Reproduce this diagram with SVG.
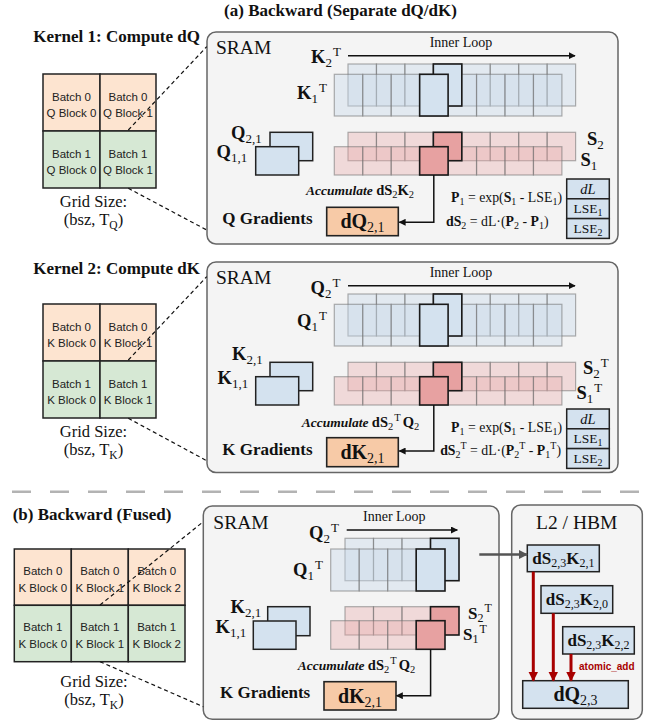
<svg xmlns="http://www.w3.org/2000/svg" xmlns:xlink="http://www.w3.org/1999/xlink" width="646" height="721" viewBox="0 0 646 721">
<style>
.s{font-family:"Liberation Serif","Times New Roman",serif;fill:#111}
.b{font-weight:bold}
.i{font-style:italic}
.sans{font-family:"Liberation Sans",Arial,sans-serif;font-size:11.5px;fill:#222;text-anchor:middle}
.title{font-size:17px;font-weight:bold}
.panel{fill:#f4f4f4;stroke:#666;stroke-width:1.5}
.og{fill:#fde4d0;stroke:#222;stroke-width:1.5}
.gn{fill:#d6e8d4;stroke:#222;stroke-width:1.5}
.cb{fill:#c8d8ea;fill-opacity:.42;stroke:#6f6f6f;stroke-opacity:.55;stroke-width:1.2}
.cr{fill:#e8a8a8;fill-opacity:.36;stroke:#6f6f6f;stroke-opacity:.55;stroke-width:1.2}
.hb{fill:#d4e2ef;stroke:#1a1a1a;stroke-width:1.6}
.hr{fill:#e7a1a1;stroke:#1a1a1a;stroke-width:1.6}
.blk{fill:#d4e2ef;stroke:#222;stroke-width:1.5}
.grad{fill:#f7caa7;stroke:#222;stroke-width:1.6}
.dash{fill:none;stroke:#111;stroke-width:1.2;stroke-dasharray:4 3}
.con{fill:none;stroke:#111;stroke-width:1.5}
.lb{font-size:18.5px;font-weight:bold}
.gl{font-size:17px;font-weight:bold}
.sb{font-size:13px;font-weight:normal}
.fm{font-size:13.8px}
.fs{font-size:10px}
</style>
<defs>
<marker id="ah" viewBox="0 0 10 10" refX="9" refY="5" markerWidth="7" markerHeight="7" markerUnits="userSpaceOnUse" orient="auto"><path d="M0,0 L10,5 L0,10 z" fill="#111"/></marker>
<marker id="ahr" viewBox="0 0 10 10" refX="9" refY="5" markerWidth="10" markerHeight="10" markerUnits="userSpaceOnUse" orient="auto"><path d="M0,0 L10,5 L0,10 z" fill="#a80000"/></marker>
<marker id="ahg" viewBox="0 0 10 10" refX="9" refY="5" markerWidth="9" markerHeight="9" markerUnits="userSpaceOnUse" orient="auto"><path d="M0,0 L10,5 L0,10 z" fill="#555"/></marker>
<g id="stripsA">
<g class="cb">
<rect x="348" y="64" width="28.45" height="42"/><rect x="376.45" y="64" width="28.45" height="42"/><rect x="404.9" y="64" width="28.45" height="42"/><rect x="433.35" y="64" width="28.45" height="42"/><rect x="461.8" y="64" width="28.45" height="42"/><rect x="490.25" y="64" width="28.45" height="42"/><rect x="518.7" y="64" width="28.45" height="42"/><rect x="547.15" y="64" width="28.45" height="42"/>
<rect x="334.3" y="74.3" width="28.45" height="41.7"/><rect x="362.75" y="74.3" width="28.45" height="41.7"/><rect x="391.2" y="74.3" width="28.45" height="41.7"/><rect x="419.65" y="74.3" width="28.45" height="41.7"/><rect x="448.1" y="74.3" width="28.45" height="41.7"/><rect x="476.55" y="74.3" width="28.45" height="41.7"/><rect x="505" y="74.3" width="28.45" height="41.7"/><rect x="533.45" y="74.3" width="28.45" height="41.7"/>
</g>
<rect class="hb" x="433.35" y="64" width="28.45" height="42"/>
<rect class="hb" x="419.65" y="74.3" width="28.45" height="41.7"/>
<g class="cr">
<rect x="348" y="132.3" width="28.45" height="28.4"/><rect x="376.45" y="132.3" width="28.45" height="28.4"/><rect x="404.9" y="132.3" width="28.45" height="28.4"/><rect x="433.35" y="132.3" width="28.45" height="28.4"/><rect x="461.8" y="132.3" width="28.45" height="28.4"/><rect x="490.25" y="132.3" width="28.45" height="28.4"/><rect x="518.7" y="132.3" width="28.45" height="28.4"/><rect x="547.15" y="132.3" width="28.45" height="28.4"/>
<rect x="334.3" y="146.7" width="28.45" height="28.3"/><rect x="362.75" y="146.7" width="28.45" height="28.3"/><rect x="391.2" y="146.7" width="28.45" height="28.3"/><rect x="419.65" y="146.7" width="28.45" height="28.3"/><rect x="448.1" y="146.7" width="28.45" height="28.3"/><rect x="476.55" y="146.7" width="28.45" height="28.3"/><rect x="505" y="146.7" width="28.45" height="28.3"/><rect x="533.45" y="146.7" width="28.45" height="28.3"/>
</g>
<rect class="hr" x="433.35" y="132.3" width="28.45" height="28.4"/>
<rect class="hr" x="419.65" y="146.7" width="28.45" height="28.3"/>
<rect class="blk" x="270" y="132.3" width="42.7" height="28.4"/>
<rect class="blk" x="255.7" y="146.7" width="43" height="28.3"/>
<rect class="blk" x="566.7" y="179" width="42.6" height="19.8"/>
<rect class="blk" x="566.7" y="198.8" width="42.6" height="19.8"/>
<rect class="blk" x="566.7" y="218.6" width="42.6" height="19.8"/>
<text class="s i" x="588" y="193.5" font-size="14.5" text-anchor="middle">dL</text>
<text class="s" x="588" y="213" font-size="13.5" text-anchor="middle">LSE<tspan font-size="10" dy="3">1</tspan></text>
<text class="s" x="588" y="232.8" font-size="13.5" text-anchor="middle">LSE<tspan font-size="10" dy="3">2</tspan></text>
<text class="s fm" x="562" y="201.5" text-anchor="end"><tspan class="b">P</tspan><tspan class="fs" dy="3">1</tspan><tspan dy="-3"> = exp(</tspan><tspan class="b">S</tspan><tspan class="fs" dy="3">1</tspan><tspan dy="-3"> - LSE</tspan><tspan class="fs" dy="3">1</tspan><tspan dy="-3">)</tspan></text>
<line class="con" x1="348" y1="55.7" x2="575" y2="55.7" marker-end="url(#ah)"/>
<text class="s" x="461" y="47" font-size="14" text-anchor="middle">Inner Loop</text>
<text class="s" x="216" y="54.3" font-size="19.5">SRAM</text>
</g>
</defs>

<text class="s title" x="340.5" y="16" text-anchor="middle">(a) Backward (Separate dQ/dK)</text>

<!-- Kernel 1 -->
<g id="kernel1-grid">
<text class="s title" x="33.3" y="41.7">Kernel 1: Compute dQ</text>
<rect class="og" x="43" y="74" width="57" height="57"/>
<rect class="og" x="100" y="74" width="56" height="57"/>
<rect class="gn" x="43" y="131" width="57" height="57"/>
<rect class="gn" x="100" y="131" width="56" height="57"/>
<text class="sans" x="71.5" y="100.8">Batch 0</text><text class="sans" x="71.5" y="117.4">Q Block 0</text>
<text class="sans" x="128" y="100.8">Batch 0</text><text class="sans" x="128" y="117.4">Q Block 1</text>
<text class="sans" x="71.5" y="157.8">Batch 1</text><text class="sans" x="71.5" y="174.4">Q Block 0</text>
<text class="sans" x="128" y="157.8">Batch 1</text><text class="sans" x="128" y="174.4">Q Block 1</text>
<text class="s" x="93.5" y="207" font-size="16.5" text-anchor="middle">Grid Size:</text>
<text class="s" x="93.5" y="225" font-size="16.5" text-anchor="middle">(bsz, T<tspan font-size="11.5" dy="4">Q</tspan><tspan dy="-4">)</tspan></text>
</g>

<g id="sram1">
<rect class="panel" x="207" y="32" width="411" height="212" rx="9"/>
<use xlink:href="#stripsA" href="#stripsA"/>
<text class="s lb" x="311" y="62.5">K<tspan class="sb" dy="4">2</tspan><tspan class="sb" dy="-11" dx="1">T</tspan></text>
<text class="s lb" x="297" y="99">K<tspan class="sb" dy="4">1</tspan><tspan class="sb" dy="-11" dx="1">T</tspan></text>
<text class="s lb" x="231" y="139">Q<tspan class="sb" dy="4">2,1</tspan></text>
<text class="s lb" x="216.5" y="158">Q<tspan class="sb" dy="4">1,1</tspan></text>
<text class="s lb" x="587" y="145">S<tspan class="sb" dy="4">2</tspan></text>
<text class="s lb" x="580.5" y="166">S<tspan class="sb" dy="4">1</tspan></text>
<text class="s" x="306" y="195"><tspan class="b i" font-size="13.5">Accumulate </tspan><tspan class="b" font-size="14.5">dS</tspan><tspan font-size="10.5" dy="3">2</tspan><tspan class="b" font-size="14.5" dy="-3">K</tspan><tspan font-size="10.5" dy="3">2</tspan></text>
<text class="s gl" x="222.3" y="224">Q Gradients</text>
<rect class="grad" x="326.7" y="207.3" width="71.6" height="28.4"/>
<text class="s b" x="362.5" y="228" font-size="20" text-anchor="middle">dQ<tspan font-size="14" font-weight="normal" dy="4">2,1</tspan></text>
<text class="s fm" x="548.5" y="226" text-anchor="end"><tspan class="b">dS</tspan><tspan class="fs" dy="3">2</tspan><tspan dy="-3"> = dL·(</tspan><tspan class="b">P</tspan><tspan class="fs" dy="3">2</tspan><tspan dy="-3"> - </tspan><tspan class="b">P</tspan><tspan class="fs" dy="3">1</tspan><tspan dy="-3">)</tspan></text>
</g>

<!-- Kernel 2 -->
<g id="kernel2-grid">
<text class="s title" x="33.3" y="273.5">Kernel 2: Compute dK</text>
<rect class="og" x="43" y="304" width="57" height="57"/>
<rect class="og" x="100" y="304" width="56" height="57"/>
<rect class="gn" x="43" y="361" width="57" height="57"/>
<rect class="gn" x="100" y="361" width="56" height="57"/>
<text class="sans" x="71.5" y="330.8">Batch 0</text><text class="sans" x="71.5" y="347.4">K Block 0</text>
<text class="sans" x="128" y="330.8">Batch 0</text><text class="sans" x="128" y="347.4">K Block 1</text>
<text class="sans" x="71.5" y="387.8">Batch 1</text><text class="sans" x="71.5" y="404.4">K Block 0</text>
<text class="sans" x="128" y="387.8">Batch 1</text><text class="sans" x="128" y="404.4">K Block 1</text>
<text class="s" x="93.5" y="437" font-size="16.5" text-anchor="middle">Grid Size:</text>
<text class="s" x="93.5" y="455" font-size="16.5" text-anchor="middle">(bsz, T<tspan font-size="11.5" dy="4">K</tspan><tspan dy="-4">)</tspan></text>
</g>

<g id="sram2">
<rect class="panel" x="207" y="262" width="411" height="210.5" rx="9"/>
<use xlink:href="#stripsA" href="#stripsA" transform="translate(0,230)"/>
<text class="s lb" x="310.5" y="293.5">Q<tspan class="sb" dy="4">2</tspan><tspan class="sb" dy="-11" dx="1">T</tspan></text>
<text class="s lb" x="297" y="327">Q<tspan class="sb" dy="4">1</tspan><tspan class="sb" dy="-11" dx="1">T</tspan></text>
<text class="s lb" x="232" y="359.5">K<tspan class="sb" dy="4">2,1</tspan></text>
<text class="s lb" x="217.5" y="383.5">K<tspan class="sb" dy="4">1,1</tspan></text>
<text class="s lb" x="583" y="374">S<tspan class="sb" dy="4">2</tspan><tspan class="sb" dy="-11.5" dx="1">T</tspan></text>
<text class="s lb" x="576.5" y="399">S<tspan class="sb" dy="4">1</tspan><tspan class="sb" dy="-11.5" dx="1">T</tspan></text>
<text class="s" x="301.7" y="427"><tspan class="b i" font-size="13.5">Accumulate </tspan><tspan class="b" font-size="14.5">dS</tspan><tspan font-size="10.5" dy="3">2</tspan><tspan font-size="10.5" dy="-9" dx="1">T</tspan><tspan class="b" font-size="14.5" dy="6" dx="2">Q</tspan><tspan font-size="10.5" dy="3">2</tspan></text>
<text class="s gl" x="222.3" y="455">K Gradients</text>
<rect class="grad" x="326.7" y="437.7" width="71.6" height="29"/>
<text class="s b" x="362.5" y="458.5" font-size="20" text-anchor="middle">dK<tspan font-size="14" font-weight="normal" dy="4">2,1</tspan></text>
<text class="s fm" x="561" y="455" text-anchor="end"><tspan class="b">dS</tspan><tspan class="fs" dy="3">2</tspan><tspan class="fs" dy="-9">T</tspan><tspan dy="6"> = dL·(</tspan><tspan class="b">P</tspan><tspan class="fs" dy="3">2</tspan><tspan class="fs" dy="-9">T</tspan><tspan dy="6"> - </tspan><tspan class="b">P</tspan><tspan class="fs" dy="3">1</tspan><tspan class="fs" dy="-9">T</tspan><tspan dy="6">)</tspan></text>
</g>

<line x1="12" y1="491.7" x2="642" y2="491.7" stroke="#b3b3b3" stroke-width="2.5" stroke-dasharray="19 19"/>

<!-- (b) Fused -->
<g id="fused-grid">
<text class="s title" x="12.7" y="520">(b) Backward (Fused)</text>
<rect class="og" x="14.3" y="549" width="57" height="56.3"/>
<rect class="og" x="71.3" y="549" width="57" height="56.3"/>
<rect class="og" x="128.3" y="549" width="56.7" height="56.3"/>
<rect class="gn" x="14.3" y="605.3" width="57" height="56.4"/>
<rect class="gn" x="71.3" y="605.3" width="57" height="56.4"/>
<rect class="gn" x="128.3" y="605.3" width="56.7" height="56.4"/>
<text class="sans" x="42.8" y="574.8">Batch 0</text><text class="sans" x="42.8" y="591.8">K Block 0</text>
<text class="sans" x="99.8" y="574.8">Batch 0</text><text class="sans" x="99.8" y="591.8">K Block 1</text>
<text class="sans" x="156.7" y="574.8">Batch 0</text><text class="sans" x="156.7" y="591.8">K Block 2</text>
<text class="sans" x="42.8" y="630.8">Batch 1</text><text class="sans" x="42.8" y="648.4">K Block 0</text>
<text class="sans" x="99.8" y="630.8">Batch 1</text><text class="sans" x="99.8" y="648.4">K Block 1</text>
<text class="sans" x="156.7" y="630.8">Batch 1</text><text class="sans" x="156.7" y="648.4">K Block 2</text>
<text class="s" x="94" y="686.5" font-size="16.5" text-anchor="middle">Grid Size:</text>
<text class="s" x="94" y="705" font-size="16.5" text-anchor="middle">(bsz, T<tspan font-size="11.5" dy="4">K</tspan><tspan dy="-4">)</tspan></text>
</g>

<g id="sram3">
<rect class="panel" x="203.3" y="506" width="295.7" height="213.3" rx="9"/>
<text class="s" x="213.3" y="528.5" font-size="19.5">SRAM</text>
<text class="s" x="394.3" y="521" font-size="14" text-anchor="middle">Inner Loop</text>
<g class="cb">
<rect x="345" y="538.3" width="28.5" height="42.4"/><rect x="373.5" y="538.3" width="28.5" height="42.4"/><rect x="402" y="538.3" width="28.5" height="42.4"/>
<rect x="330.7" y="549" width="28.5" height="42"/><rect x="359.2" y="549" width="28.5" height="42"/><rect x="387.7" y="549" width="28.5" height="42"/>
</g>
<rect class="hb" x="430.5" y="538.3" width="28.5" height="42.4"/>
<rect class="hb" x="416.2" y="549" width="28.8" height="42"/>
<g class="cr">
<rect x="345" y="606.7" width="28.5" height="28.3"/><rect x="373.5" y="606.7" width="28.5" height="28.3"/><rect x="402" y="606.7" width="28.5" height="28.3"/>
<rect x="330.7" y="620.7" width="28.5" height="28.6"/><rect x="359.2" y="620.7" width="28.5" height="28.6"/><rect x="387.7" y="620.7" width="28.5" height="28.6"/>
</g>
<rect class="hr" x="430.5" y="606.7" width="28.5" height="28.3"/>
<rect class="hr" x="416.2" y="620.7" width="28.8" height="28.6"/>
<rect class="blk" x="267.7" y="606.7" width="42.3" height="29"/>
<rect class="blk" x="253.3" y="621" width="42.7" height="28.3"/>
<text class="s lb" x="309" y="539">Q<tspan class="sb" dy="4">2</tspan><tspan class="sb" dy="-11" dx="1">T</tspan></text>
<text class="s lb" x="293" y="576">Q<tspan class="sb" dy="4">1</tspan><tspan class="sb" dy="-11" dx="1">T</tspan></text>
<text class="s lb" x="230.5" y="612.5">K<tspan class="sb" dy="4">2,1</tspan></text>
<text class="s lb" x="215.5" y="632.5">K<tspan class="sb" dy="4">1,1</tspan></text>
<text class="s b" x="468" y="618.5" font-size="17">S<tspan font-size="12" font-weight="normal" dy="3.5">2</tspan><tspan font-size="12" font-weight="normal" dy="-10.5" dx="1">T</tspan></text>
<text class="s b" x="463" y="639.5" font-size="17">S<tspan font-size="12" font-weight="normal" dy="3.5">1</tspan><tspan font-size="12" font-weight="normal" dy="-10.5" dx="1">T</tspan></text>
<text class="s" x="297.7" y="670"><tspan class="b i" font-size="13.5">Accumulate </tspan><tspan class="b" font-size="14.5">dS</tspan><tspan font-size="10.5" dy="3">2</tspan><tspan font-size="10.5" dy="-9" dx="1">T</tspan><tspan class="b" font-size="14.5" dy="6" dx="2">Q</tspan><tspan font-size="10.5" dy="3">2</tspan></text>
<text class="s gl" x="220" y="698">K Gradients</text>
<rect class="grad" x="324" y="681.7" width="72" height="28.3"/>
<text class="s b" x="360" y="702.5" font-size="20" text-anchor="middle">dK<tspan font-size="14" font-weight="normal" dy="4">2,1</tspan></text>
</g>

<g id="hbm">
<rect class="panel" x="511.7" y="505" width="130.6" height="214.3" rx="9"/>
<text class="s" x="576.7" y="528.5" font-size="19.5" text-anchor="middle">L2 / HBM</text>
<rect class="blk" x="527.3" y="545" width="72" height="26.7"/>
<text class="s b" x="563.3" y="563.5" font-size="17" text-anchor="middle">dS<tspan font-size="12" font-weight="normal" dy="3.5">2,3</tspan><tspan dy="-3.5">K</tspan><tspan font-size="12" font-weight="normal" dy="3.5">2,1</tspan></text>
<rect class="blk" x="541" y="585.7" width="71.7" height="27.6"/>
<text class="s b" x="576.8" y="604.5" font-size="17" text-anchor="middle">dS<tspan font-size="12" font-weight="normal" dy="3.5">2,3</tspan><tspan dy="-3.5">K</tspan><tspan font-size="12" font-weight="normal" dy="3.5">2,0</tspan></text>
<rect class="blk" x="562.7" y="626.7" width="71.6" height="27.3"/>
<text class="s b" x="598.5" y="645.5" font-size="17" text-anchor="middle">dS<tspan font-size="12" font-weight="normal" dy="3.5">2,3</tspan><tspan dy="-3.5">K</tspan><tspan font-size="12" font-weight="normal" dy="3.5">2,2</tspan></text>
<rect class="blk" x="522.7" y="680.7" width="105.6" height="27.6"/>
<text class="s b" x="575.5" y="700.5" font-size="20" text-anchor="middle">dQ<tspan font-size="14" font-weight="normal" dy="4">2,3</tspan></text>
<text x="579" y="670" font-family="'Liberation Sans',Arial,sans-serif" font-size="10" font-weight="bold" fill="#a80000">atomic_add</text>
</g>

<g id="connectors">
<line class="dash" x1="128.3" y1="130" x2="206.7" y2="46.7"/>
<line class="dash" x1="128.3" y1="188.3" x2="206.7" y2="230"/>
<line class="dash" x1="128.3" y1="360" x2="206.7" y2="276.7"/>
<line class="dash" x1="128.3" y1="418.3" x2="206.7" y2="460.7"/>
<line class="dash" x1="100" y1="605" x2="203.3" y2="521.7"/>
<line class="dash" x1="100" y1="661.7" x2="203.3" y2="706.7"/>
<polyline class="con" points="433.8,175 433.8,222.3 399.3,222.3" marker-end="url(#ah)"/>
<polyline class="con" points="433.8,405 433.8,451 399.3,451" marker-end="url(#ah)"/>
<line class="con" x1="346.7" y1="530" x2="457.3" y2="530" marker-end="url(#ah)"/>
<polyline class="con" points="430.6,649.3 430.6,695.7 396.5,695.7" marker-end="url(#ah)"/>
<line x1="479.3" y1="554.5" x2="527" y2="554.5" stroke="#555" stroke-width="2.5" marker-end="url(#ahg)"/>
<line x1="533.3" y1="571.7" x2="533.3" y2="680.5" stroke="#a80000" stroke-width="3" marker-end="url(#ahr)"/>
<line x1="553.3" y1="613.3" x2="553.3" y2="680.5" stroke="#a80000" stroke-width="3" marker-end="url(#ahr)"/>
<line x1="571" y1="654" x2="571" y2="680.5" stroke="#a80000" stroke-width="3" marker-end="url(#ahr)"/>
</g>
</svg>
